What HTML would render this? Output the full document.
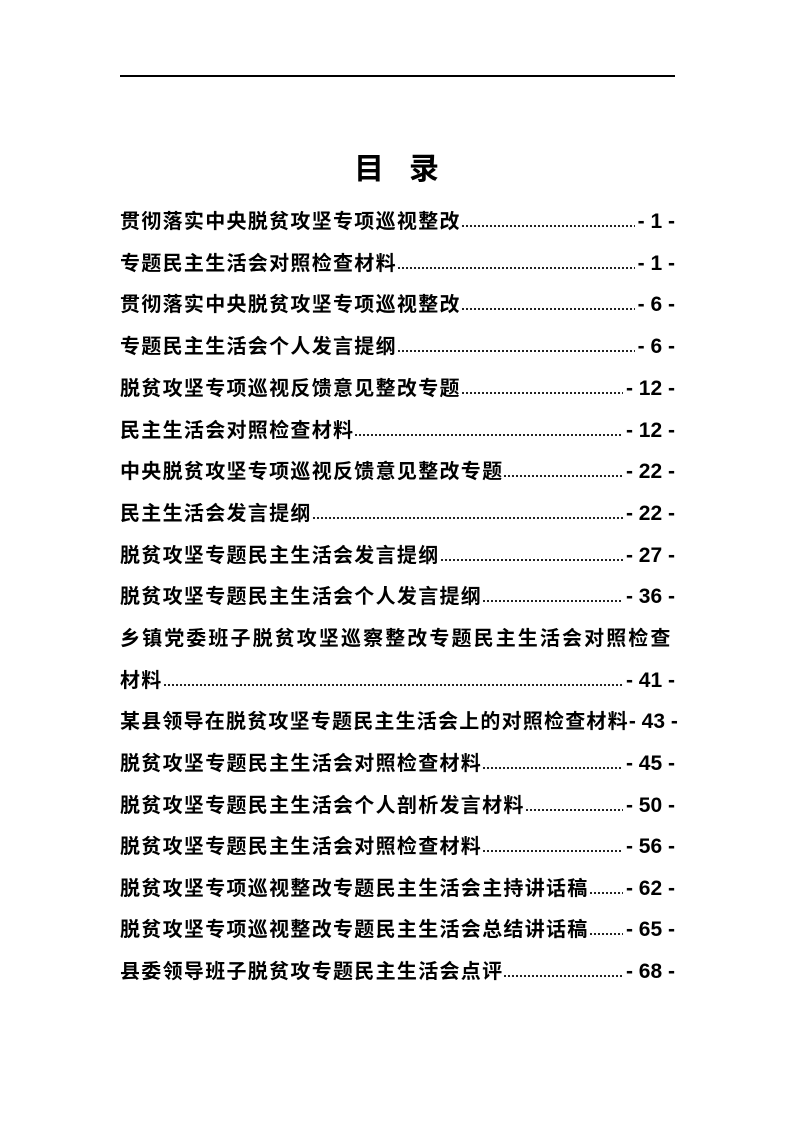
<!DOCTYPE html>
<html><head><meta charset="utf-8"><style>
html,body{margin:0;padding:0;background:#fff;}
body{width:793px;height:1122px;position:relative;overflow:hidden;font-family:"Liberation Sans","Noto Sans CJK SC",sans-serif;color:#000;}
.hr{position:absolute;left:120px;top:75px;width:555px;height:2px;background:#000;}
.title{position:absolute;left:0;width:793px;top:148px;text-align:center;font-size:30px;font-weight:bold;line-height:44px;letter-spacing:0;}
.row{position:absolute;left:120px;width:555px;height:42px;line-height:42px;font-size:20px;font-weight:bold;display:flex;white-space:nowrap;}
.t{flex:none;letter-spacing:1.3px;}
.d{flex:1;height:42px;background:radial-gradient(circle,#000 0.9px,transparent 1.2px) 0 23px/4px 4px repeat-x;margin:0 3px 0 0;}
.n{flex:none;font-size:21px;}
</style></head><body>
<div class="hr"></div>
<div class="title">目&nbsp;&nbsp;&nbsp;录</div>
<div class="row" style="top:201px"><span class="t">贯彻落实中央脱贫攻坚专项巡视整改</span><span class="d"></span><span class="n">- 1 -</span></div>
<div class="row" style="top:243px"><span class="t">专题民主生活会对照检查材料</span><span class="d"></span><span class="n">- 1 -</span></div>
<div class="row" style="top:284px"><span class="t">贯彻落实中央脱贫攻坚专项巡视整改</span><span class="d"></span><span class="n">- 6 -</span></div>
<div class="row" style="top:326px"><span class="t">专题民主生活会个人发言提纲</span><span class="d"></span><span class="n">- 6 -</span></div>
<div class="row" style="top:368px"><span class="t">脱贫攻坚专项巡视反馈意见整改专题</span><span class="d"></span><span class="n">- 12 -</span></div>
<div class="row" style="top:410px"><span class="t">民主生活会对照检查材料</span><span class="d"></span><span class="n">- 12 -</span></div>
<div class="row" style="top:451px"><span class="t">中央脱贫攻坚专项巡视反馈意见整改专题</span><span class="d"></span><span class="n">- 22 -</span></div>
<div class="row" style="top:493px"><span class="t">民主生活会发言提纲</span><span class="d"></span><span class="n">- 22 -</span></div>
<div class="row" style="top:535px"><span class="t">脱贫攻坚专题民主生活会发言提纲</span><span class="d"></span><span class="n">- 27 -</span></div>
<div class="row" style="top:576px"><span class="t">脱贫攻坚专题民主生活会个人发言提纲</span><span class="d"></span><span class="n">- 36 -</span></div>
<div class="row" style="top:618px"><span class="t" style="letter-spacing:2.1px">乡镇党委班子脱贫攻坚巡察整改专题民主生活会对照检查</span></div>
<div class="row" style="top:660px"><span class="t">材料</span><span class="d"></span><span class="n">- 41 -</span></div>
<div class="row" style="top:701px;width:575px"><span class="t" style="letter-spacing:1.2px">某县领导在脱贫攻坚专题民主生活会上的对照检查材料</span><span class="n">- 43 -</span></div>
<div class="row" style="top:743px"><span class="t">脱贫攻坚专题民主生活会对照检查材料</span><span class="d"></span><span class="n">- 45 -</span></div>
<div class="row" style="top:785px"><span class="t">脱贫攻坚专题民主生活会个人剖析发言材料</span><span class="d"></span><span class="n">- 50 -</span></div>
<div class="row" style="top:826px"><span class="t">脱贫攻坚专题民主生活会对照检查材料</span><span class="d"></span><span class="n">- 56 -</span></div>
<div class="row" style="top:868px"><span class="t">脱贫攻坚专项巡视整改专题民主生活会主持讲话稿</span><span class="d"></span><span class="n">- 62 -</span></div>
<div class="row" style="top:909px"><span class="t">脱贫攻坚专项巡视整改专题民主生活会总结讲话稿</span><span class="d"></span><span class="n">- 65 -</span></div>
<div class="row" style="top:951px"><span class="t">县委领导班子脱贫攻专题民主生活会点评</span><span class="d"></span><span class="n">- 68 -</span></div>
</body></html>
